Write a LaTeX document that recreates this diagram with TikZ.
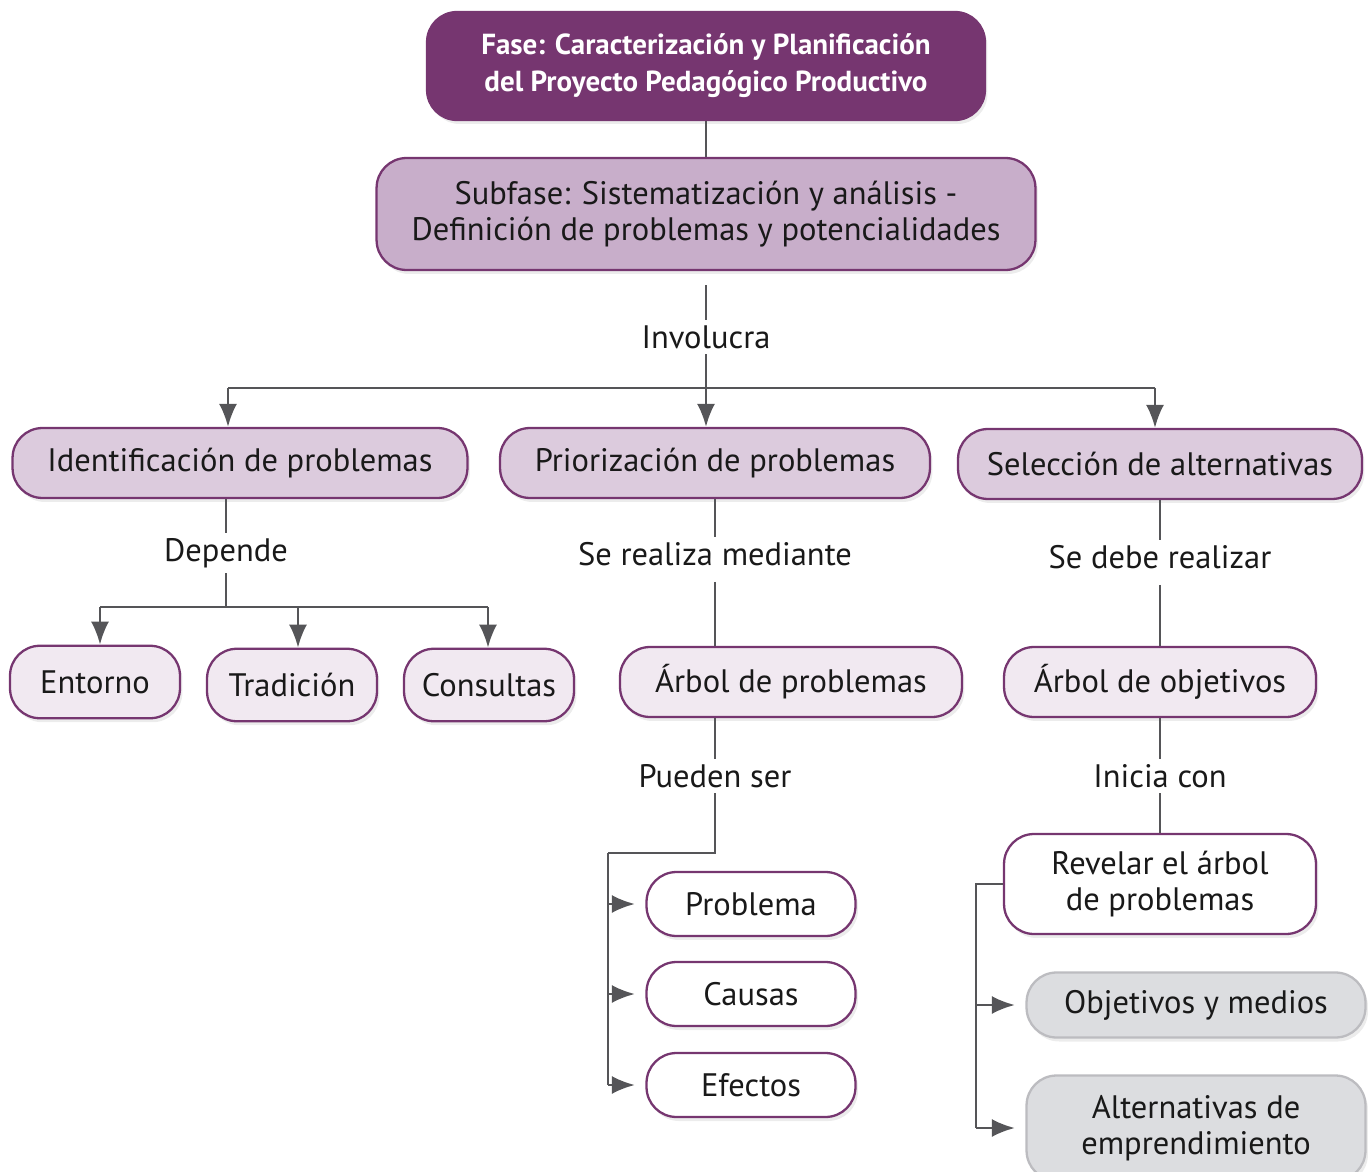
\documentclass[tikz,border=0pt]{standalone}
\usepackage{fontspec}
\setmainfont{PT Sans}
\usetikzlibrary{positioning, arrows.meta, shadows}

\definecolor{morado}{RGB}{118,54,112}
\definecolor{lila}{RGB}{200,174,202}
\definecolor{lilaclaro}{RGB}{220,203,221}
\definecolor{lilapalido}{RGB}{241,233,241}
\definecolor{gris}{RGB}{220,221,224}
\definecolor{grisborde}{RGB}{188,188,192}
\definecolor{linea}{RGB}{85,85,88}

\begin{document}
\begin{tikzpicture}[x=0.02cm, y=-0.02cm,
    every node/.style={font=\fontsize{18.5}{20.5}\selectfont, text=black!90},
    caja/.style={draw=morado, line width=1.3pt, rounded corners=0.6cm, align=center,
      inner sep=2pt, drop shadow={opacity=0.15, shadow xshift=0.5mm, shadow yshift=-0.8mm}},
    nivel1/.style={caja, fill=lilaclaro, minimum height=1.4cm},
    nivel2/.style={caja, fill=lilapalido, minimum height=1.45cm},
    hoja/.style={caja, fill=white, minimum height=1.28cm},
    grisbox/.style={caja, draw=grisborde, fill=gris},
    etiqueta/.style={inner sep=3pt},
    con/.style={draw=linea, line width=1.4pt},
    flecha/.style={con, -{Latex[length=4.6mm, width=3.6mm]}}]
    \useasboundingbox (0,0) rectangle (1369,1172);

    % Top boxes
    \node[caja, fill=morado, text=white, font=\fontsize{16.5}{21}\selectfont\bfseries,
      minimum width=11.16cm, minimum height=2.16cm] (fase) at (706,66)
      {Fase: Caracterización y Planificación\\del Proyecto Pedagógico Productivo};
    \node[caja, fill=lila, minimum width=13.18cm, minimum height=2.24cm] (sub) at (706,214)
      {Subfase: Sistematización y análisis -\\Definición de problemas y potencialidades};
    \draw[con] (fase) -- (sub);

    % Involucra
    \node[etiqueta] (inv) at (706,337) {Involucra};
    \coordinate (invb) at (706,388);
    \coordinate (invl) at (228,388);
    \coordinate (invr) at (1155,388);
    \draw[con, shorten <=8pt] (sub.south) -- (inv.north);
    \draw[con] (inv.south) -- (invb);
    \draw[con] (invl) -- (invr);

    \node[nivel1, minimum width=9.1cm] (ident) at (240,463) {Identificación de problemas};
    \node[nivel1, minimum width=8.6cm] (prior) at (715,463) {Priorización de problemas};
    \node[nivel1, minimum width=8.08cm] (selec) at (1160,464) {Selección de alternativas};
    \draw[flecha] (invl) -- (invl |- ident.north);
    \draw[flecha] (invb) -- (invb |- prior.north);
    \draw[flecha] (invr) -- (invr |- selec.north);

    % Left branch
    \node[etiqueta] (dep) at (226,553) {Depende};
    \coordinate (depb) at (226,607);
    \coordinate (depl) at (100,607);
    \coordinate (depr) at (488,607);
    \draw[con] (ident.south -| dep) -- (dep.north);
    \draw[con] (dep.south) -- (depb);
    \draw[con] (depl) -- (depr);
    \foreach \n/\x/\y/\t in {ent/95/682/Entorno, trad/292/685/Tradición, cons/489/685/Consultas} {
      \node[nivel2, minimum width=3.4cm] (\n) at (\x,\y) {\t};
    }
    \draw[flecha] (depl) -- (depl |- ent.north);
    \draw[flecha] (depb -| trad) ++(6,0) coordinate (dept) -- (dept |- trad.north);
    \draw[flecha] (depr) -- (depr |- cons.north);

    % Middle branch
    \node[etiqueta] (med) at (715,554) {Se realiza mediante};
    \node[nivel2, minimum width=6.84cm, minimum height=1.4cm] (arbp) at (791,682) {Árbol de problemas};
    \draw[con] (prior.south -| med) -- (med.north);
    \draw[con, shorten <=6pt] (med.south) -- (med |- arbp.north);
    \node[etiqueta] (pue) at (715,776) {Pueden ser};
    \draw[con] (arbp.south -| pue) -- (pue.north);
    \coordinate (pueb) at (715,853);
    \coordinate (puel) at (608,853);
    \draw[con] (pue.south) -- (pueb) -- (puel);
    \foreach \n/\y/\t in {prob/904/Problema, caus/994/Causas, efec/1085/Efectos} {
      \node[hoja, minimum width=4.18cm] (\n) at (751,\y) {\t};
      \draw[flecha] (puel |- \n.west) -- ([xshift=-6pt]\n.west);
    }
    \draw[con] (puel) -- (puel |- efec.west);

    % Right branch
    \node[etiqueta] (deb) at (1160,557) {Se debe realizar};
    \node[nivel2, minimum width=6.24cm, minimum height=1.4cm] (arbo) at (1160,682) {Árbol de objetivos};
    \draw[con] (selec.south) -- (deb.north);
    \draw[con, shorten <=6pt] (deb.south) -- (arbo.north);
    \node[etiqueta] (ini) at (1160,776) {Inicia con};
    \draw[con] (arbo.south) -- (ini.north);
    \node[hoja, minimum width=6.24cm, minimum height=2cm] (rev) at (1160,884)
      {Revelar el árbol\\de problemas};
    \draw[con] (ini.south) -- (rev.north);
    \coordinate (revl) at (976,884);
    \node[grisbox, minimum width=6.78cm, minimum height=1.3cm] (obj) at (1196,1005) {Objetivos y medios};
    \node[grisbox, minimum width=6.78cm, minimum height=2.1cm] (alt) at (1196,1128)
      {Alternativas de\\emprendimiento};
    \draw[con] (rev.west) -- (revl) -- (revl |- alt.west);
    \draw[flecha] (revl |- obj.west) -- ([xshift=-6pt]obj.west);
    \draw[flecha] (revl |- alt.west) -- ([xshift=-6pt]alt.west);
\end{tikzpicture}
\end{document}
